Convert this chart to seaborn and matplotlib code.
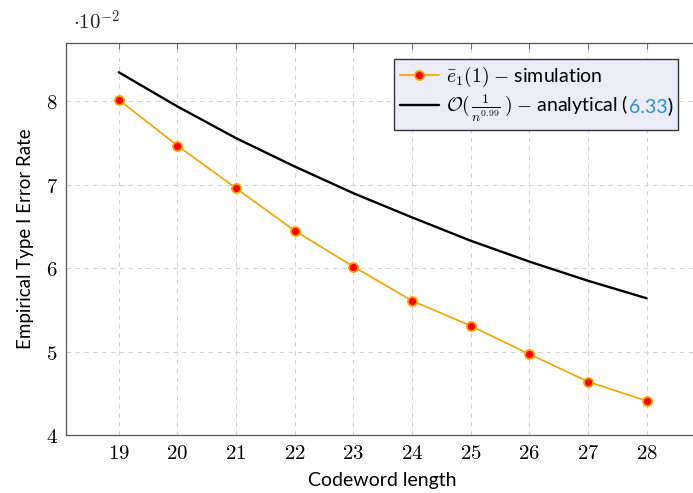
import pandas as pd
import numpy as np
import matplotlib
matplotlib.use('Agg')
import matplotlib.pyplot as plt
import seaborn as sns

# values (scaled by 1e-2)
codeword_length = [19, 20, 21, 22, 23, 24, 25, 26, 27, 28]
sim_error = [8.02, 7.47, 6.96, 6.45, 6.02, 5.61, 5.31, 4.97, 4.64, 4.41]
analytic_error = [8.35, 7.94, 7.56, 7.22, 6.90, 6.61, 6.33, 6.08, 5.85, 5.64]
y_ticks = [4, 5, 6, 7, 8]

df = pd.DataFrame({'n': codeword_length, 'sim': sim_error, 'ana': analytic_error})

sns.set_theme(style='white')
plt.rcParams['font.family'] = ['Lato', 'DejaVu Sans']
plt.rcParams['mathtext.fontset'] = 'cm'

orange = '#f5a300'
legend_bg = '#ececf6'
fig = plt.figure(figsize=(6.93, 4.93), dpi=100)
ax = fig.add_axes([0.0952, 0.1176, 0.914, 0.795])

sns.lineplot(data=df, x='n', y='sim', ax=ax, color=orange, lw=1.2, marker='o',
             markersize=6.5, markerfacecolor='red', markeredgecolor=orange,
             markeredgewidth=1.3, label=r'$\bar{e}_1(1)$ $-$ simulation')
sns.lineplot(data=df, x='n', y='ana', ax=ax, color='black', lw=1.7,
             label=r'$\mathcal{O}(\,\frac{1}{n^{0.99}}\,)$ $-$ analytical (6.33)')

ax.set_xlim(18.1, 28.9)
ax.set_ylim(4, 8.7)
ax.set_xticks(codeword_length)
ax.set_xticklabels([f'${v}$' for v in codeword_length])
ax.set_yticks(y_ticks)
ax.set_yticklabels([f'${v}$' for v in y_ticks])
ax.tick_params(axis='both', direction='in', length=4, width=0.8, color='#777777',
               labelsize=15, labelcolor='black', top=True, right=True, pad=6)
ax.grid(True, ls=(0, (4, 4)), color='#d4d4d4', lw=0.8)
for s in ax.spines.values():
    s.set_color('#555555')
    s.set_linewidth(0.9)

ax.set_xlabel('Codeword length', fontsize=14, labelpad=6, color='black')
ax.set_ylabel('Empirical Type I Error Rate', fontsize=13.5, labelpad=8, color='black')
fig.text(0.105, 0.955, r'$\cdot 10^{-2}$', fontsize=15, va='center')

leg = ax.legend(loc='upper right', bbox_to_anchor=(0.982, 0.985), fontsize=14,
                fancybox=False, framealpha=1, facecolor=legend_bg,
                edgecolor='#333333', handlelength=2.0, borderpad=0.3,
                labelspacing=0.2, handletextpad=0.4)
leg.get_frame().set_linewidth(1.0)
for txt in leg.get_texts():
    txt.set_color('black')

# recolour the equation reference: redraw "6.33" in blue over the legend text
fig.canvas.draw()
t = leg.get_texts()[1]
x_base, y_base = t.get_transform().transform((0, 0))
x_end = t.get_window_extent().x1
ax.annotate('6.33)', xy=(x_end, y_base), xycoords='figure pixels', ha='right',
            va='baseline', fontsize=14, color='#2b8fd6', zorder=10,
            bbox=dict(facecolor=legend_bg, edgecolor='none', pad=1.0))
ax.annotate(')', xy=(x_end, y_base), xycoords='figure pixels', ha='right',
            va='baseline', fontsize=14, color='black', zorder=11)

fig.savefig('out.png', dpi=100)
